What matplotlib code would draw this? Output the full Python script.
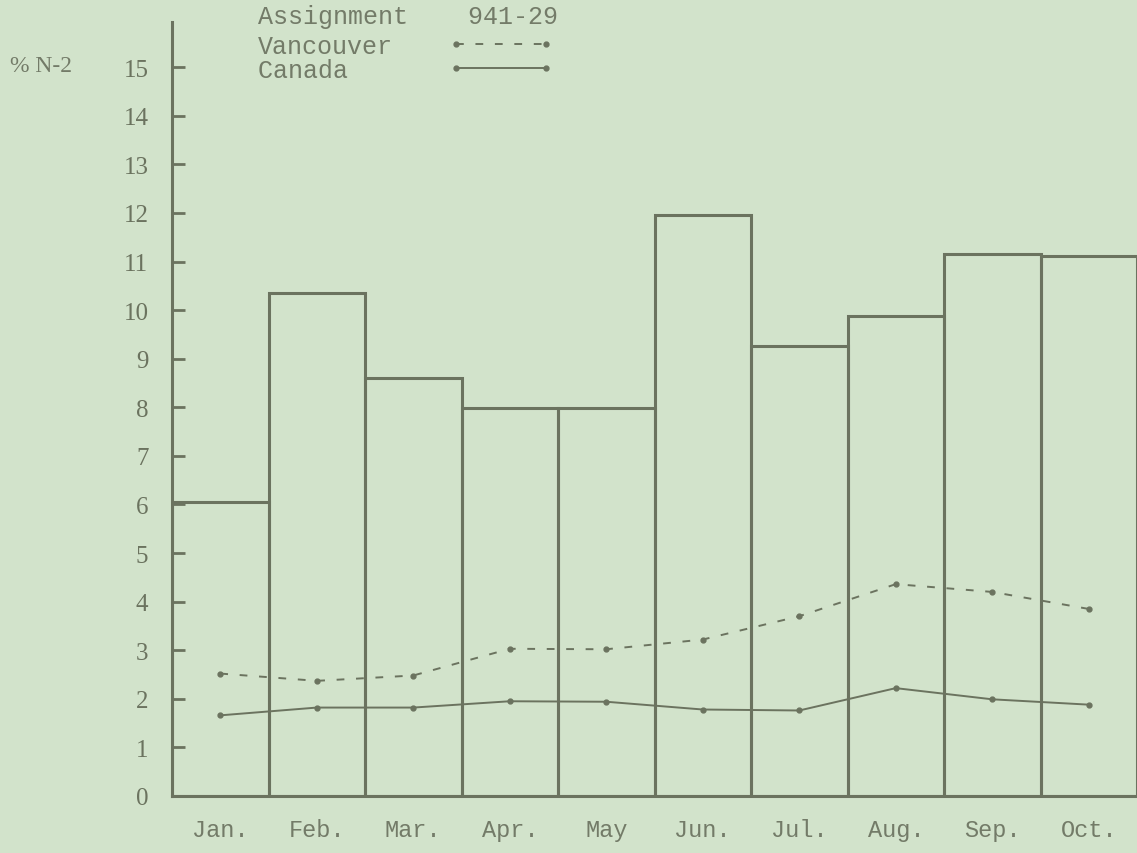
import numpy as np
import matplotlib
matplotlib.use("Agg")
import matplotlib.pyplot as plt

# Monthly values (% N-2)
months = ["Jan.", "Feb.", "Mar.", "Apr.", "May", "Jun.", "Jul.", "Aug.", "Sep.", "Oct."]
assignment = [6.05, 10.35, 8.6, 7.98, 7.98, 11.95, 9.27, 9.88, 11.15, 11.12]
vancouver = [2.52, 2.37, 2.48, 3.03, 3.02, 3.22, 3.70, 4.36, 4.20, 3.85]
canada = [1.66, 1.82, 1.82, 1.95, 1.94, 1.78, 1.76, 2.22, 1.99, 1.88]
yticks = list(range(0, 16))
series_names = ["Vancouver", "Canada"]

BG = "#d2e3cb"
INK = "#6b735f"
TXT = "#737b68"

fig = plt.figure(figsize=(11.37, 8.54), dpi=100, facecolor=BG)
ax = fig.add_axes([172 / 1137, 57 / 854, 1 - 172 / 1137, (797 - 23) / 854])
ax.set_facecolor(BG)

x = np.arange(len(months))
ax.bar(x, assignment, width=1.0, align="edge", fill=False,
       edgecolor=INK, linewidth=2.2, zorder=2)

# pad names to equal width so the monospace labels line up on the left
width = max(len(n) for n in series_names)
labels = [n.ljust(width) for n in series_names]

ax.plot(x + 0.5, vancouver, color=INK, linewidth=1.4, linestyle=(0, (4, 6)),
        marker="o", markersize=3.5, label=labels[0], zorder=3)
ax.plot(x + 0.5, canada, color=INK, linewidth=1.4, linestyle="-",
        marker="o", markersize=3.5, label=labels[1], zorder=3)

ax.set_xlim(0, len(months))
ax.set_ylim(0, 15.93)

for side in ("top", "right"):
    ax.spines[side].set_visible(False)
for side in ("left", "bottom"):
    ax.spines[side].set_color(INK)
    ax.spines[side].set_linewidth(2.2)

ax.set_yticks(yticks)
ax.set_yticklabels([str(v) for v in yticks], family="Liberation Serif",
                   fontsize=18, color=INK)
ax.tick_params(axis="y", direction="in", length=9, width=2, color=INK, pad=17)

ax.set_xticks(x + 0.5)
ax.set_xticklabels(months, family="Liberation Mono", fontsize=17, color=TXT)
ax.tick_params(axis="x", length=0, pad=16)

fig.text(10 / 1137, 1 - 67 / 854, "% N-2", family="Liberation Serif",
         fontsize=17, color=TXT, va="center", ha="left")
fig.text(258 / 1137, 1 - 17 / 854, "Assignment    941-29",
         family="Liberation Mono", fontsize=18, color=TXT,
         va="center", ha="left")

leg = ax.legend(loc="upper left", bbox_to_anchor=(245 / 1137, 1 - 22 / 854),
                bbox_transform=fig.transFigure, frameon=False,
                markerfirst=False, numpoints=2, handlelength=4.2,
                handletextpad=2.25, labelspacing=0.0, borderpad=0.0,
                prop={"family": "Liberation Mono", "size": 18})
for t in leg.get_texts():
    t.set_color(TXT)

fig.savefig("out.png", dpi=100, facecolor=BG)
